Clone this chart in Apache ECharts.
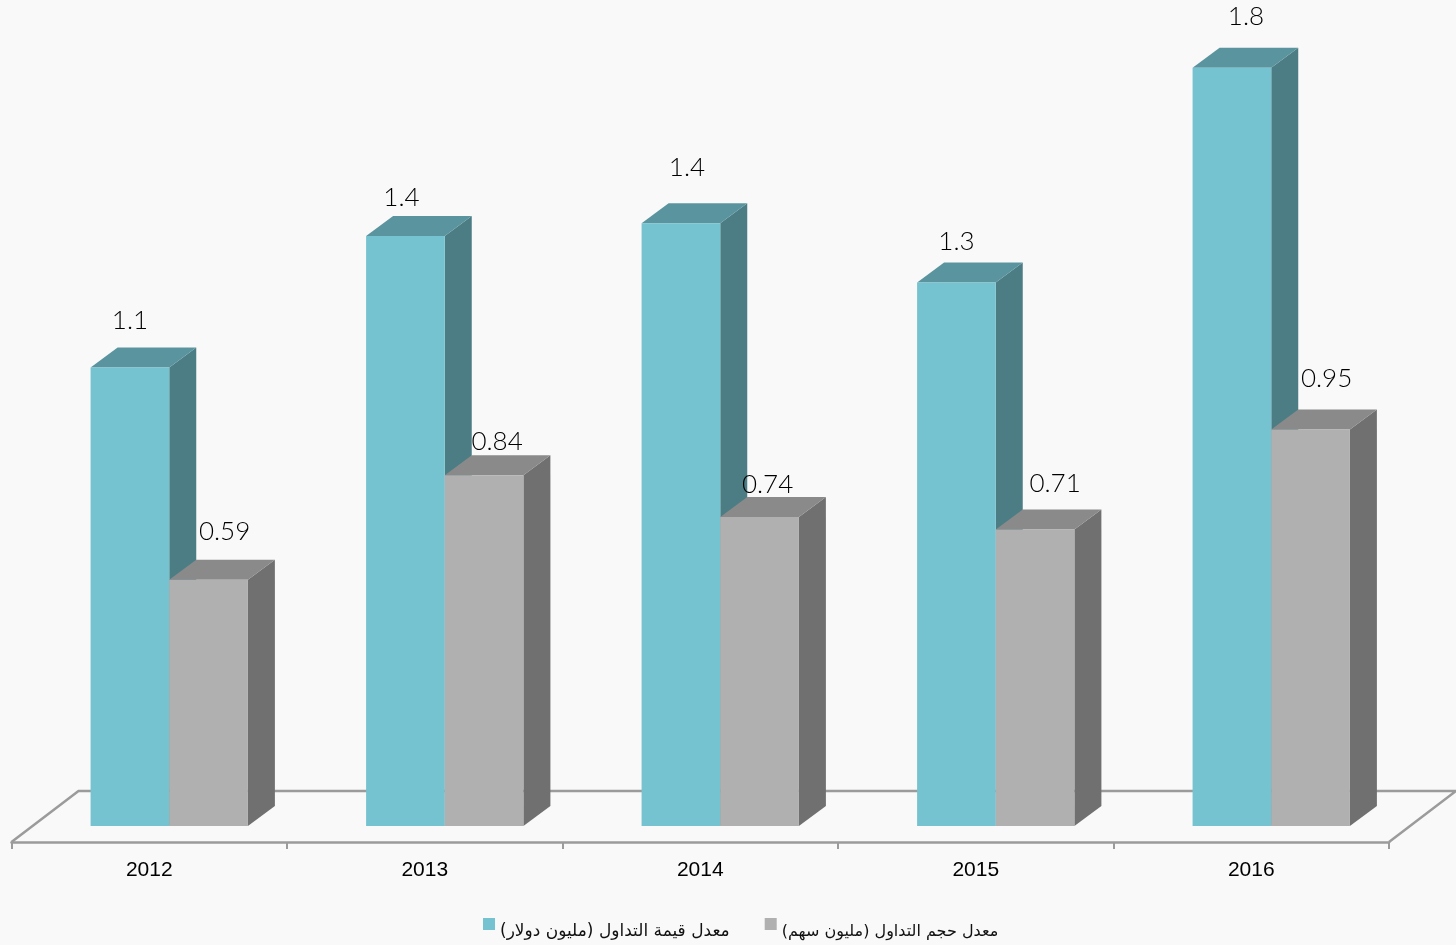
<!DOCTYPE html>
<html>
<head>
<meta charset="utf-8">
<title>chart</title>
<script src="https://cdn.jsdelivr.net/npm/echarts@6/dist/echarts.min.js"></script>
<style>
    html, body { margin: 0; padding: 0; background: #f9f9f9; }
    #main { width: 1456px; height: 945px; }
</style>
</head>
<body>
<div id="main" dir="rtl"></div>
<script>
// 数据
var years = ['2012', '2013', '2014', '2015', '2016'];
var valueName = 'معدل قيمة التداول (مليون دولار)';
var volumeName = 'معدل حجم التداول (مليون سهم)';
var tradeValue = [1.098, 1.413, 1.444, 1.302, 1.816];
var tradeVolume = [0.59, 0.84, 0.74, 0.71, 0.95];
var tradeValueLabels = ['1.1', '1.4', '1.4', '1.3', '1.8'];
var tradeVolumeLabels = ['0.59', '0.84', '0.74', '0.71', '0.95'];

// 标签相对柱子正面顶部中点的偏移 [x, y]
var valueLabelNudge = [[0, -47], [-4, -38], [6, -56], [0, -41], [14, -51]];
var volumeLabelNudge = [[16, -48], [13, -34], [8, -32], [20, -46], [16, -51]];

var DEPTH_X = 27;
var DEPTH_Y = 20;
var BAR_RATIO = 0.2855;
var BAR_SHIFT = 20;
var AXIS_OFFSET = 16;

// 画一根立体柱子：正面、顶面、侧面和数值
function boxRenderer(side, colors, labels, nudge) {
    return function (params, api) {
        var i = api.value(0);
        var top = api.coord([i, api.value(1)]);
        var base = api.coord([i, 0]);
        var w = api.size([1, 0])[0] * BAR_RATIO;
        var x0 = top[0] + BAR_SHIFT + (side < 0 ? -w : 0);
        var x1 = x0 + w;
        var y0 = top[1];
        var y1 = base[1];
        return {
            type: 'group',
            children: [
                {
                    type: 'polygon',
                    shape: { points: [[x1, y0], [x1 + DEPTH_X, y0 - DEPTH_Y], [x1 + DEPTH_X, y1 - DEPTH_Y], [x1, y1]] },
                    style: { fill: colors.side }
                },
                {
                    type: 'polygon',
                    shape: { points: [[x0, y0], [x0 + DEPTH_X, y0 - DEPTH_Y], [x1 + DEPTH_X, y0 - DEPTH_Y], [x1, y0]] },
                    style: { fill: colors.top }
                },
                {
                    type: 'rect',
                    shape: { x: x0, y: y0, width: w, height: y1 - y0 },
                    style: { fill: colors.front }
                },
                {
                    type: 'text',
                    z2: 10,
                    style: {
                        text: labels[params.dataIndex],
                        x: (x0 + x1) / 2 + nudge[params.dataIndex][0],
                        y: y0 + nudge[params.dataIndex][1],
                        align: 'center',
                        verticalAlign: 'middle',
                        fill: '#000',
                        font: '300 26px Lato, "Open Sans", sans-serif'
                    }
                }
            ]
        };
    };
}

// 地面的平行四边形线框
function floorRenderer(params) {
    var c = params.coordSys;
    var y = c.y + c.height + AXIS_OFFSET;
    var x0 = c.x;
    var x1 = c.x + c.width;
    return {
        type: 'polyline',
        shape: { points: [[x0, y], [x0 + 67, y - 51], [x1 + 67, y - 51], [x1, y]] },
        style: { fill: 'none', stroke: '#9b9b9b', lineWidth: 2.5 }
    };
}

var myChart = echarts.init(document.getElementById('main'));

var option = {
    backgroundColor: '#f9f9f9',
    animation: false,
    grid: { left: 11.5, width: 1377.5, top: 32.75, height: 793.25 },
    legend: {
        left: 478,
        top: 913,
        itemWidth: 12,
        itemHeight: 27,
        itemGap: 35,
        // 方块比文字略高：图标下方留空
        icon: 'path://M0,0H12V12H0Z M0,27L0,27Z',
        data: [
            { name: valueName },
            { name: volumeName, textStyle: { fontSize: 16 } }
        ],
        textStyle: {
            color: '#111',
            fontFamily: '"DejaVu Sans", "Liberation Sans", sans-serif',
            fontSize: 17
        }
    },
    xAxis: {
        type: 'category',
        data: years,
        offset: AXIS_OFFSET,
        axisLine: { show: true, onZero: false, lineStyle: { color: '#9b9b9b', width: 2.5 } },
        axisTick: { show: true, length: 7, lineStyle: { color: '#9b9b9b', width: 2 } },
        axisLabel: {
            color: '#000',
            fontFamily: '"Liberation Sans", Arial, sans-serif',
            fontSize: 21,
            margin: 18
        }
    },
    yAxis: {
        type: 'value',
        min: 0,
        max: 1.9,
        show: false
    },
    series: [
        {
            type: 'custom',
            silent: true,
            clip: false,
            z: 1,
            renderItem: floorRenderer,
            data: [0]
        },
        {
            name: valueName,
            type: 'custom',
            clip: false,
            z: 2,
            itemStyle: { color: '#75c3d0' },
            renderItem: boxRenderer(-1, { front: '#75c3d0', top: '#5a959f', side: '#4c7d85' }, tradeValueLabels, valueLabelNudge),
            data: tradeValue.map(function (v, i) { return [i, v]; })
        },
        {
            name: volumeName,
            type: 'custom',
            clip: false,
            z: 3,
            itemStyle: { color: '#b0b0b0' },
            renderItem: boxRenderer(1, { front: '#b0b0b0', top: '#8a8a8a', side: '#707070' }, tradeVolumeLabels, volumeLabelNudge),
            data: tradeVolume.map(function (v, i) { return [i, v]; })
        }
    ]
};

myChart.setOption(option);

window.onresize = function () {
    myChart.resize();
};
</script>
</body>
</html>
